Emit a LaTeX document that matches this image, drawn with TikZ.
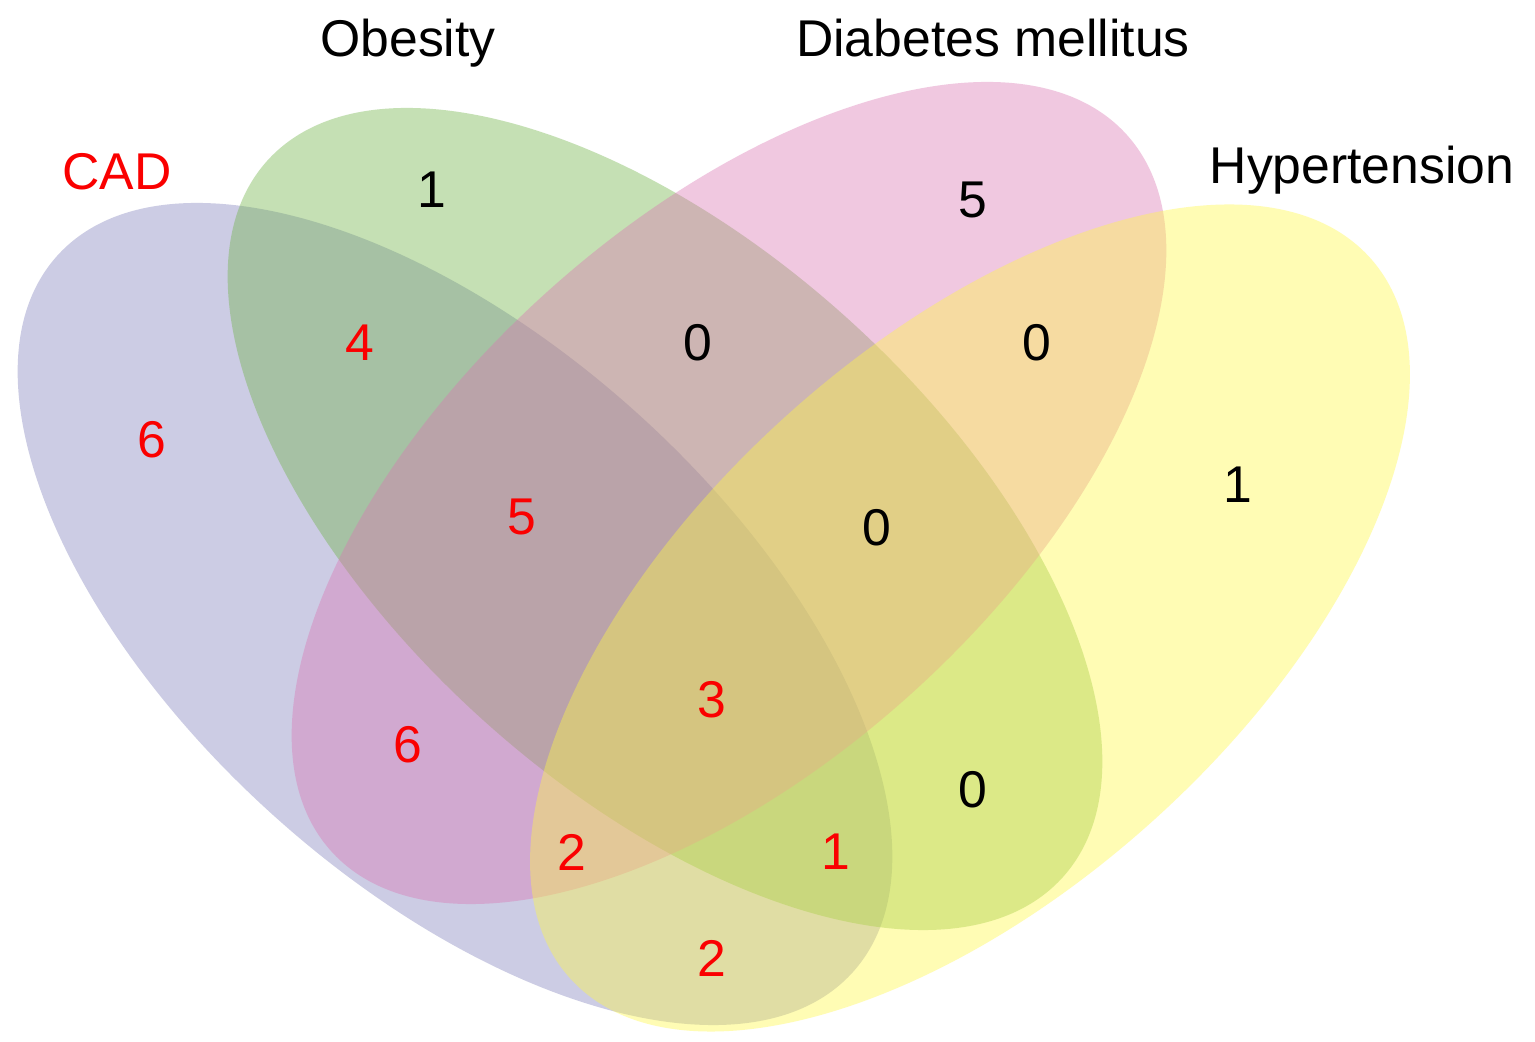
\documentclass[tikz,border=0pt]{standalone}
\usepackage{fontspec}
\setmainfont{Liberation Sans}
\definecolor{cadc}{RGB}{128,128,188}
\definecolor{obec}{RGB}{110,178,68}
\definecolor{diac}{RGB}{218,118,178}
\definecolor{hypc}{RGB}{255,248,68}
\definecolor{redt}{RGB}{250,0,0}
\tikzset{
  setfill/.style={fill opacity=0.4},
  num/.style={font=\fontsize{14.7}{17}\selectfont, inner sep=0pt, anchor=center},
  rnum/.style={num, text=redt},
  bnum/.style={num, text=black},
  lab/.style={font=\fontsize{14.7}{17}\selectfont, inner sep=0pt, anchor=base}
}
\begin{document}
\begin{tikzpicture}[x=0.01cm,y=0.01cm]
\useasboundingbox (0,0) rectangle (1535,1042);
\fill[white] (0,0) rectangle (1535,1042);
% ellipses
\fill[cadc, setfill, rotate around={-42:(455,428)}] (455,428) ellipse [x radius=5.35cm, y radius=2.71cm];
\fill[obec, setfill, rotate around={-42:(665,523)}] (665,523) ellipse [x radius=5.35cm, y radius=2.71cm];
\fill[diac, setfill, rotate around={42:(729,549)}] (729,549) ellipse [x radius=5.35cm, y radius=2.71cm];
\fill[hypc, setfill, rotate around={42:(970,424)}] (970,424) ellipse [x radius=5.38cm, y radius=2.73cm];
% set labels
\node[lab, text=redt] (lcad) at (117,852) {CAD};
\node[lab] (lobe) at (408,985) {Obesity};
\node[lab] (ldia) at (993,985) {Diabetes mellitus};
\node[lab] (lhyp) at (1362,858) {Hypertension};
% counts
\node[bnum] (n1) at (432,852) {1};
\node[bnum] (n2) at (973,842) {5};
\node[rnum] (n3) at (360,699) {4};
\node[bnum] (n4) at (698,699) {0};
\node[bnum] (n5) at (1037,699) {0};
\node[rnum] (n6) at (152,602) {6};
\node[rnum] (n7) at (522,525) {5};
\node[bnum] (n8) at (877,514) {0};
\node[bnum] (n9) at (1238,557) {1};
\node[rnum] (n10) at (712,342) {3};
\node[rnum] (n11) at (408,297) {6};
\node[bnum] (n12) at (973,252) {0};
\node[rnum] (n13) at (572,190) {2};
\node[rnum] (n14) at (836,190) {1};
\node[rnum] (n15) at (712,84) {2};
\end{tikzpicture}
\end{document}
